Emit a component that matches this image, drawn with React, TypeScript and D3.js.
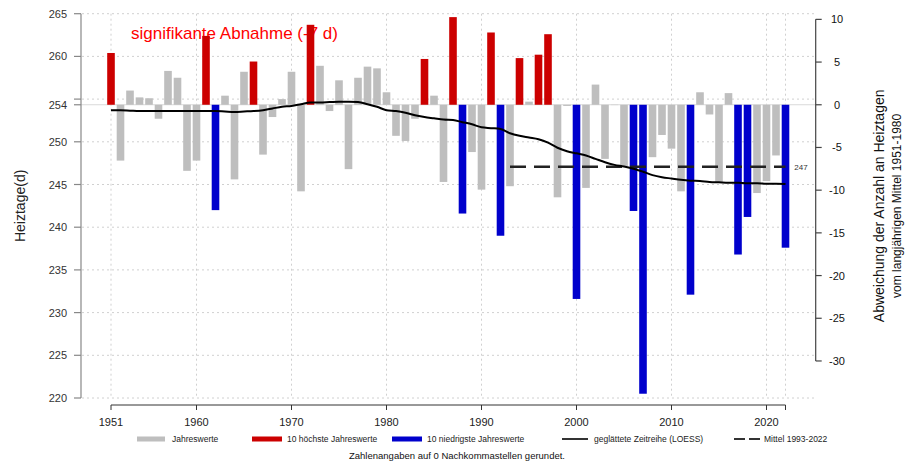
import * as d3 from 'd3';

const firstYear = 1951;

// Heiztage per year, 1951-2022
const heiztage = [
  260.4, 247.8, 256.0, 255.2, 255.1, 252.7, 258.3, 257.5, 246.6, 247.8, // 1951-1960
  262.4, 242.0, 255.4, 245.6, 258.2, 259.4, 248.5, 252.9, 255.0, 258.2, // 1961-1970
  244.2, 263.7, 258.9, 253.6, 257.2, 246.8, 257.5, 258.8, 258.6, 255.8, // 1971-1980
  250.7, 250.1, 252.7, 259.7, 255.4, 245.3, 264.6, 241.6, 248.8, 244.4, // 1981-1990
  262.8, 239.0, 244.8, 259.8, 254.7, 260.2, 262.6, 243.5, 254.2, 231.6, // 1991-2000
  244.6, 256.7, 248.0, 254.3, 247.1, 241.9, 220.5, 248.2, 250.8, 249.2, // 2001-2010
  244.2, 232.1, 255.8, 253.2, 245.3, 255.7, 236.8, 241.2, 244.0, 245.4, // 2011-2020
  248.4, 237.6, // 2021-2022
];

// smoothed series (LOESS)
const loess = [
  253.7, 253.7, 253.65, 253.6, 253.6, 253.6, 253.6, 253.6, 253.6, 253.6,
  253.6, 253.6, 253.55, 253.5, 253.55, 253.6, 253.7, 253.9, 254.1, 254.2,
  254.4, 254.6, 254.6, 254.65, 254.7, 254.7, 254.65, 254.4, 254.1, 253.7,
  253.6, 253.4, 253.1, 252.9, 252.75, 252.6, 252.55, 252.3, 252.05, 251.7,
  251.6, 251.5, 251.0, 250.7, 250.5, 250.3, 249.9, 249.3, 248.9, 248.65,
  248.4, 248.0, 247.6, 247.3, 247.1, 246.85, 246.5, 246.1, 245.85, 245.7,
  245.55, 245.45, 245.4, 245.3, 245.25, 245.2, 245.2, 245.15, 245.15, 245.1,
  245.1, 245.05,
];

const refPeriod = [1951, 1980];
const recentPeriod = [1993, 2022];

const leftTicks = [220, 225, 230, 235, 240, 245, 250, 255, 260, 265];
const rightTicks = [10, 5, 0, -5, -10, -15, -20, -25, -30];
const xTicks = [1951, 1960, 1970, 1980, 1990, 2000, 2010, 2020, 2022];
const xTickLabels = ['1951', '1960', '1970', '1980', '1990', '2000', '2010', '2020', ''];

const legendLabels = [
  'Jahreswerte',
  '10 höchste Jahreswerte',
  '10 niedrigste Jahreswerte',
  'geglättete Zeitreihe (LOESS)',
  'Mittel 1993-2022',
];

const FONT = '"Liberation Sans", Arial, Helvetica, sans-serif';
const GREY = '#bebebe';
const RED = '#cc0000';
const BLUE = '#0000cc';

export default function App() {
  const W = 906;
  const H = 462;

  const years = heiztage.map((_, i) => firstYear + i);
  const x = d3.scaleLinear().domain([1951, 2022]).range([111, 785.5]);
  const y = d3.scaleLinear().domain([220, 265]).range([398, 13.7]);

  const refVals = heiztage.filter((_, i) => years[i] >= refPeriod[0] && years[i] <= refPeriod[1]);
  const base = d3.mean(refVals) as number;
  const recentVals = heiztage.filter((_, i) => years[i] >= recentPeriod[0] && years[i] <= recentPeriod[1]);
  const recent = d3.mean(recentVals) as number;

  const yR = (a: number) => y(base + a);

  const order = d3.range(heiztage.length).sort((a, b) => heiztage[b] - heiztage[a]);
  const high = new Set(order.slice(0, 10));
  const low = new Set(order.slice(-10));
  const colorOf = (i: number) => (high.has(i) ? RED : low.has(i) ? BLUE : GREY);

  const barW = 7.6;
  const line = d3
    .line<number>()
    .x((_, i) => x(years[i]))
    .y((d) => y(d))
    .curve(d3.curveMonotoneX);

  const plotL = 81;
  const plotR = 815.7;
  const axisY = 405;

  // legend layout
  const legendY = 439;
  const legendSwatchX = [137, 252, 392, 562, 734];
  const legendTextX = [172, 287, 427, 594, 764];

  return (
    <svg
      width={W}
      height={H}
      style={{ position: 'absolute', left: 0, top: 0, background: '#fff' }}
      fontFamily={FONT}
    >
      {/* grid */}
      <g stroke="#d0d0d0" strokeWidth={1} strokeDasharray="2,3">
        {leftTicks.map((t) => (
          <line key={'h' + t} x1={plotL + 1} x2={plotR} y1={y(t)} y2={y(t)} />
        ))}
        {xTicks.map((t) => (
          <line key={'v' + t} x1={x(t)} x2={x(t)} y1={y(265)} y2={y(220)} />
        ))}
      </g>
      <line x1={plotL} x2={plotR} y1={y(base)} y2={y(base)} stroke="#d9d9d9" strokeWidth={1} />

      {/* title (behind bars) */}
      <text x={131} y={39} fill="#ff0000" fontSize={17}>
        signifikante Abnahme (-7 d)
      </text>

      {/* bars */}
      {heiztage.map((v, i) => (
        <rect
          key={years[i]}
          x={x(years[i]) - barW / 2}
          width={barW}
          y={Math.min(y(v), y(base))}
          height={Math.abs(y(v) - y(base))}
          fill={colorOf(i)}
        />
      ))}

      {/* recent mean */}
      <line
        x1={x(recentPeriod[0])}
        x2={x(recentPeriod[1])}
        y1={y(recent)}
        y2={y(recent)}
        stroke="#222"
        strokeWidth={2.5}
        strokeDasharray="16,8"
      />
      <text x={801} y={y(recent) + 3} fontSize={8} fill="#333" textAnchor="middle">
        {Math.round(recent)}
      </text>

      {/* loess */}
      <path d={line(loess) || ''} fill="none" stroke="#000" strokeWidth={2} />

      {/* left axis */}
      <g>
        <line x1={plotL} x2={plotL} y1={y(265)} y2={y(220)} stroke="#888" strokeWidth={1.2} />
        {leftTicks.map((t) => (
          <line key={'lt' + t} x1={plotL - 7} x2={plotL} y1={y(t)} y2={y(t)} stroke="#888" strokeWidth={1.2} />
        ))}
        <line x1={plotL - 7} x2={plotL} y1={y(base)} y2={y(base)} stroke="#888" strokeWidth={1.2} />
        {leftTicks
          .filter((t) => Math.abs(y(t) - y(base)) > 10)
          .map((t) => (
            <text key={'ll' + t} x={plotL - 14} y={y(t) + 4} fontSize={11} fill="#333" textAnchor="end">
              {t}
            </text>
          ))}
        <text x={plotL - 14} y={y(base) + 4} fontSize={11} fill="#333" textAnchor="end">
          {Math.round(base)}
        </text>
        <text transform={`translate(25,${(y(265) + y(220)) / 2}) rotate(-90)`} fontSize={14} fill="#222" textAnchor="middle">
          Heiztage(d)
        </text>
      </g>

      {/* right axis */}
      <g>
        <line x1={plotR} x2={plotR} y1={yR(10)} y2={yR(-30)} stroke="#444" strokeWidth={1.2} />
        {rightTicks.map((t) => (
          <g key={'rt' + t}>
            <line x1={plotR} x2={plotR + 6} y1={yR(t)} y2={yR(t)} stroke="#444" strokeWidth={1.2} />
            <text x={837} y={yR(t) + 4} fontSize={11} fill="#111" textAnchor="middle">
              {t}
            </text>
          </g>
        ))}
        <text transform={`translate(884,${(y(265) + y(220)) / 2}) rotate(-90)`} fontSize={14} fill="#111" textAnchor="middle">
          Abweichung der Anzahl an Heiztagen
        </text>
        <text transform={`translate(901,${(y(265) + y(220)) / 2}) rotate(-90)`} fontSize={12} fill="#111" textAnchor="middle">
          vom langjährigen Mittel 1951-1980
        </text>
      </g>

      {/* x axis */}
      <g>
        <line x1={x(1951)} x2={x(2022)} y1={axisY} y2={axisY} stroke="#333" strokeWidth={1} />
        {xTicks.map((t, i) => (
          <g key={'xt' + t}>
            <line x1={x(t)} x2={x(t)} y1={axisY} y2={axisY + 5} stroke="#333" strokeWidth={1} />
            <text x={x(t)} y={426} fontSize={11} fill="#222" textAnchor="middle">
              {xTickLabels[i]}
            </text>
          </g>
        ))}
      </g>

      {/* legend */}
      <g fontSize={8.5} fill="#222">
        <rect x={legendSwatchX[0]} y={legendY - 2.5} width={28} height={5} fill={GREY} />
        <rect x={legendSwatchX[1]} y={legendY - 2.5} width={30} height={5} fill={RED} />
        <rect x={legendSwatchX[2]} y={legendY - 2.5} width={30} height={5} fill={BLUE} />
        <line x1={legendSwatchX[3]} x2={legendSwatchX[3] + 26} y1={legendY} y2={legendY} stroke="#333" strokeWidth={2} />
        <line x1={legendSwatchX[4]} x2={legendSwatchX[4] + 26} y1={legendY} y2={legendY} stroke="#333" strokeWidth={2} strokeDasharray="11,4" />
        {legendLabels.map((l, i) => (
          <text key={l} x={legendTextX[i]} y={legendY + 3}>
            {l}
          </text>
        ))}
      </g>

      <text x={457} y={459} fontSize={9.5} fill="#111" textAnchor="middle">
        Zahlenangaben auf 0 Nachkommastellen gerundet.
      </text>
    </svg>
  );
}
